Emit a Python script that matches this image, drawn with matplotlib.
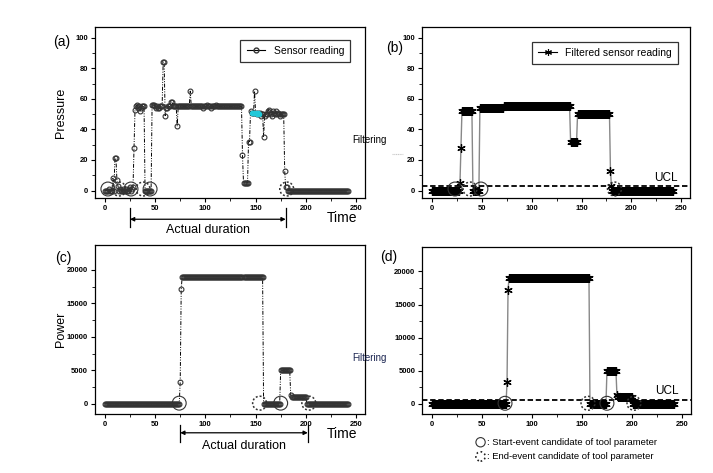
import numpy as np
import matplotlib
matplotlib.use('Agg')
import matplotlib.pyplot as plt
from matplotlib.lines import Line2D

plt.rcParams['font.family'] = ['Liberation Sans', 'DejaVu Sans']

########################################################################
# data (one sample per time unit, t = 0..242)
time = np.arange(243)

# (a) raw pressure sensor reading
pressure_head = [0, 0, 0, 0, 1, 0, 0, 0, 8, 0, 21, 21, 7, 3, 0, 1, 0, 0, 1, 0,
                 0, 1, 0, 0, 1, 2, 0, 1, 2, 28, 53, 55, 56, 54, 55, 52, 54, 55,
                 55, 55, 0, 0, 0, 0, 0, 0, 0, 56, 56, 56, 55, 54, 55, 54, 54,
                 55, 55, 55, 84, 84, 49, 54, 54, 55, 55, 55, 58, 58, 55, 55,
                 55, 55, 42]
pressure_mid = [55, 55, 55, 55, 55, 55, 55, 55, 55, 55, 55, 55, 65, 55, 55,
                55, 55, 55, 55, 55, 55, 55, 55, 55, 55, 54, 55, 55, 55, 56,
                55, 55, 55, 54, 55, 55, 55, 55, 56, 55, 55, 55, 55, 55, 55,
                55, 55, 55, 55, 55, 55, 55, 55, 55, 55, 55, 55, 55, 55, 55,
                55, 55, 55, 55]
pressure_tail = [23, 5, 5, 5, 5, 5, 32, 32, 52, 51, 51, 51, 65, 51, 50, 51,
                 50, 51, 49, 50, 50, 35, 49, 50, 50, 52, 53, 51, 50, 49, 52,
                 51, 50, 52, 50, 51, 50, 49, 50, 50, 50, 50, 13, 2, 2]
pressure_zero = [0] * 61
pressure = np.array(pressure_head + pressure_mid + pressure_tail + pressure_zero)
cyan_idx = [146, 147, 148, 150, 151, 152, 153]

# (b) filtered pressure: (value, number of samples)
filt_p_vals = [0, 5, 28, 52, 0, 54, 55, 32, 50, 13, 3, 0]
filt_p_runs = [28, 1, 1, 11, 7, 24, 67, 7, 33, 1, 1, 62]
filt_pressure = np.repeat(filt_p_vals, filt_p_runs)
ucl_pressure = 3

# (c) raw power reading
power_vals = [0, 3300, 17200, 19000, 0, 5000, 1300, 1000, 0]
power_runs = [75, 1, 1, 81, 17, 10, 1, 15, 42]
power = np.repeat(power_vals, power_runs)

# (d) filtered power
filt_w_vals = [0, 3300, 17200, 19000, 0, 5000, 1300, 1000, 0]
filt_w_runs = [75, 1, 1, 81, 17, 10, 1, 15, 42]
filt_power = np.repeat(filt_w_vals, filt_w_runs)
ucl_power = 550

# event candidates (time)
start_a = [3, 26, 45]
end_a = [14, 38, 181]
start_b = [23, 49]
end_b = [38, 183]
start_c = [74, 175]
end_c = [154, 203]
start_d = [73, 175]
end_d = [156, 202]

duration_a = (25, 180)
duration_c = (75, 202)

########################################################################

fig = plt.figure(figsize=(7.13, 4.73), dpi=100)
ax_a = fig.add_axes([0.133, 0.581, 0.379, 0.362])
ax_b = fig.add_axes([0.592, 0.581, 0.376, 0.362])
ax_c = fig.add_axes([0.133, 0.125, 0.379, 0.357])
ax_d = fig.add_axes([0.592, 0.125, 0.377, 0.353])

dashdot = (0, (4, 1.5, 1, 1.5, 1, 1.5))
dotted = (0, (1.3, 1.3))
circ_kw = dict(s=100, facecolors='none', edgecolors='#333333', zorder=5)


def style_axes(ax, ymax, ystep, yminor, ylim):
    ax.set_xlim(-10, 259)
    ax.set_ylim(*ylim)
    ax.set_xticks(np.arange(0, 251, 50))
    ax.set_xticks(np.arange(0, 251, 25), minor=True)
    ax.set_yticks(np.arange(0, ymax + 1, ystep))
    ax.set_yticks(np.arange(0, ymax + 1, yminor), minor=True)
    ax.tick_params(which='major', direction='out', length=3, width=0.8,
                   labelsize=5.5, pad=1.8)
    ax.tick_params(which='minor', direction='out', length=2, width=0.6)
    for lab in ax.get_xticklabels() + ax.get_yticklabels():
        lab.set_fontweight('bold')
    for sp in ax.spines.values():
        sp.set_linewidth(0.9)


def events(ax, starts, ends, y):
    ax.scatter(starts, [y] * len(starts), linestyles='-', linewidths=0.8, **circ_kw)
    ax.scatter(ends, [y] * len(ends), linestyles=dotted, linewidths=1.1, **circ_kw)


def duration(ax, span, yarrow, ytick, ytext):
    tr = ax.get_xaxis_transform()
    ax.annotate('', xy=(span[0], yarrow), xytext=(span[1], yarrow), xycoords=tr,
                textcoords=tr, arrowprops=dict(arrowstyle='<|-|>', color='k',
                                               lw=0.9, mutation_scale=6,
                                               shrinkA=0, shrinkB=0))
    for x in span:
        ax.plot([x, x], ytick, transform=tr, color='k', lw=0.9, clip_on=False)
    ax.text(np.mean(span), ytext, 'Actual duration', transform=tr, ha='center',
            va='center', fontsize=9)
    ax.text(0.97, -0.118, 'Time', transform=ax.transAxes, ha='right',
            va='center', fontsize=10)


# (a) sensor reading
ax_a.plot(time, pressure, linestyle=dashdot, color='k', lw=0.7, marker='o',
          ms=3.5, mfc='none', mec='#333333', mew=0.8)
ax_a.plot(time[cyan_idx], pressure[cyan_idx], 'o', ms=3, color='#20c8d8', zorder=4)
events(ax_a, start_a, end_a, 1)
style_axes(ax_a, 100, 20, 10, (-5, 107))
ax_a.set_ylabel('Pressure', fontsize=9)
ax_a.yaxis.set_label_coords(-0.104, 0.5)
h = Line2D([], [], color='k', lw=0.8, marker='o', ms=3.5, mfc='none', mec='#333333')
ax_a.legend([h], ['Sensor reading'], loc='upper right', bbox_to_anchor=(0.965, 0.955),
            fontsize=7.5, frameon=True, fancybox=False, edgecolor='k',
            handlelength=1.8, borderpad=0.6).get_frame().set_linewidth(0.9)
duration(ax_a, duration_a, -0.123, [-0.058, -0.17], -0.185)

# (b) filtered sensor reading
ax_b.plot(time, filt_pressure, '-', color='#888888', lw=1.0, zorder=2)
ax_b.plot(time, filt_pressure, linestyle='none', marker=(6, 2, 0), ms=6,
          color='k', mew=0.9, zorder=3)
ax_b.axhline(ucl_pressure, color='k', lw=1.3, ls=(0, (3, 1.5)), zorder=4)
ax_b.text(0.955, 0.115, 'UCL', transform=ax_b.transAxes, ha='right', va='center',
          fontsize=8.5)
events(ax_b, start_b, end_b, 1)
style_axes(ax_b, 100, 20, 10, (-5, 107))
h = Line2D([], [], color='k', lw=0.8, marker=(6, 2, 0), ms=5, mew=0.8)
ax_b.legend([h], ['Filtered sensor reading'], loc='upper right',
            bbox_to_anchor=(0.975, 0.945), fontsize=7.5, frameon=True,
            fancybox=False, edgecolor='k', handlelength=1.8,
            borderpad=0.6).get_frame().set_linewidth(0.9)

# (c) power
ax_c.plot(time, power, linestyle=dashdot, color='k', lw=0.7, marker='o',
          ms=3.5, mfc='none', mec='#333333', mew=0.8)
events(ax_c, start_c, end_c, 100)
style_axes(ax_c, 20000, 5000, 2500, (-1500, 23700))
ax_c.set_ylabel('Power', fontsize=9)
ax_c.yaxis.set_label_coords(-0.104, 0.5)
duration(ax_c, duration_c, -0.112, [-0.065, -0.166], -0.19)

# (d) filtered power
ax_d.plot(time, filt_power, '-', color='#888888', lw=1.0, zorder=2)
ax_d.plot(time, filt_power, linestyle='none', marker=(6, 2, 0), ms=6,
          color='k', mew=0.9, zorder=3)
ax_d.axhline(ucl_power, color='k', lw=1.3, ls=(0, (3, 1.5)), zorder=4)
ax_d.text(0.955, 0.135, 'UCL', transform=ax_d.transAxes, ha='right', va='center',
          fontsize=8.5)
events(ax_d, start_d, end_d, 100)
style_axes(ax_d, 20000, 5000, 2500, (-1500, 23700))

# panel letters and the 'Filtering' notes
for x, y, s in [(0.074, 0.911, '(a)'), (0.541, 0.898, '(b)'),
                (0.077, 0.455, '(c)'), (0.533, 0.457, '(d)')]:
    fig.text(x, y, s, ha='left', va='center', fontsize=10)
fig.text(0.494, 0.704, 'Filtering', ha='left', va='center', fontsize=7)
fig.text(0.494, 0.243, 'Filtering', ha='left', va='center', fontsize=7,
         color='#1a2450')
fig.add_artist(Line2D([0.550, 0.565], [0.674, 0.674], color='#c8c8c8', lw=0.8,
                      ls=(0, (1, 0.6))))

# event legend under (d)
ax_d.scatter([0.674], [0.065], transform=fig.transFigure, clip_on=False, s=45,
             facecolors='none', edgecolors='#333333', linewidths=0.8)
ax_d.scatter([0.674], [0.035], transform=fig.transFigure, clip_on=False, s=45,
             facecolors='none', edgecolors='#222222', linewidths=1.2,
             linestyles=(0, (1, 1.6)))
ax_d.set_xlim(-10, 259)
ax_d.set_ylim(-1500, 23700)
fig.text(0.683, 0.065, ': Start-event candidate of tool parameter', ha='left',
         va='center', fontsize=6.8)
fig.text(0.683, 0.035, ': End-event candidate of tool parameter', ha='left',
         va='center', fontsize=6.8)

fig.savefig('out.png', dpi=100)
